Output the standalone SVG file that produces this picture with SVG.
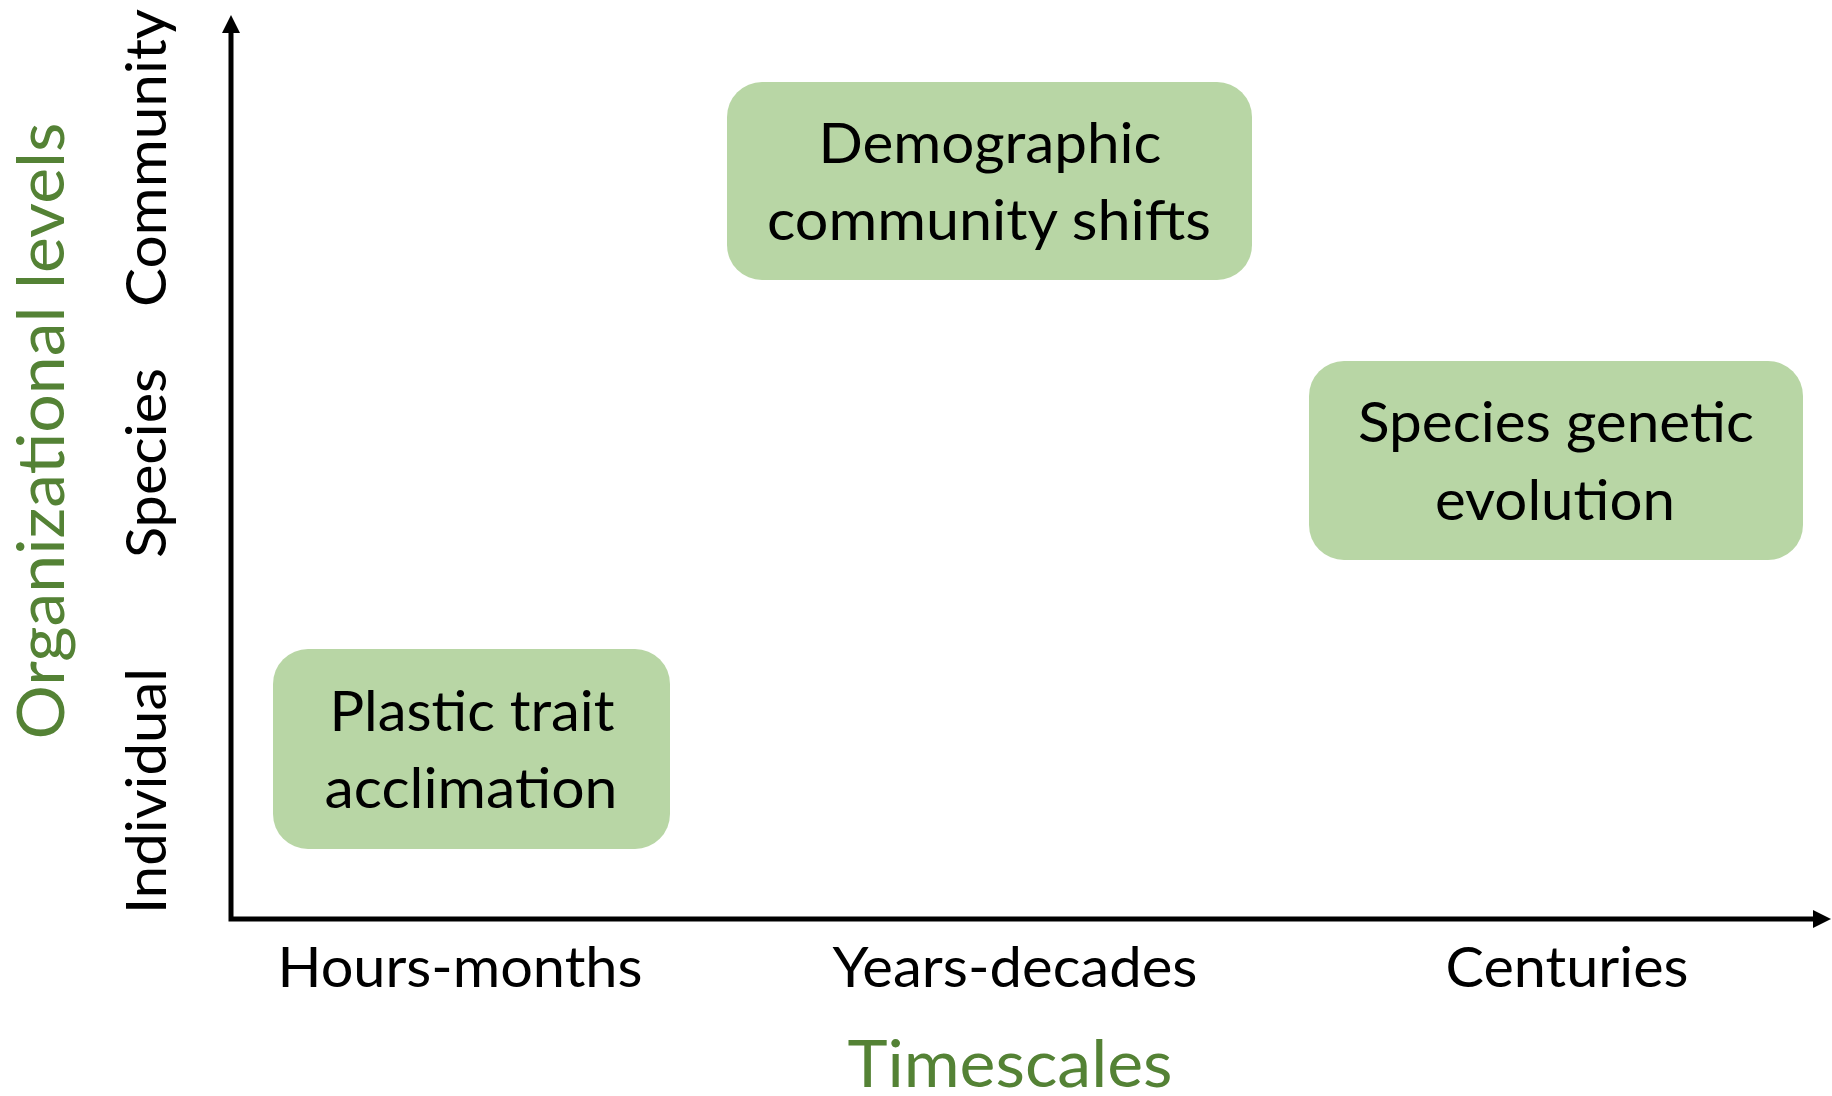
<svg xmlns="http://www.w3.org/2000/svg" width="1832" height="1096" viewBox="0 0 1832 1096">
  <defs>
    <marker id="arrowhead" markerUnits="userSpaceOnUse" markerWidth="18" markerHeight="18" refX="0" refY="9" orient="auto-start-reverse" viewBox="0 0 18 18">
      <path d="M0,0 L18,9 L0,18 z" fill="#000000"/>
    </marker>
    <style>
      .box { fill: #B8D6A5; }
      .label { font-family: Lato, "Open Sans", "Liberation Sans", sans-serif; fill: #000000; text-anchor: middle; }
      .txt { font-size: 56px; }
      .title { font-size: 65px; fill: #548235; }
      .axis { fill: none; stroke: #000000; stroke-width: 5; stroke-linejoin: miter; }
    </style>
  </defs>
  <rect width="1832" height="1096" fill="#FFFFFF"/>

  <!-- axes -->
  <g id="connectors">
    <path class="axis" d="M231,33 V919 H1813" marker-start="url(#arrowhead)" marker-end="url(#arrowhead)"/>
  </g>

  <!-- vertical axis labels -->
  <g id="y-axis-labels">
    <text class="label title" transform="translate(64,431) rotate(-90)" textLength="617" lengthAdjust="spacingAndGlyphs">Organizational levels</text>
    <text class="label txt" transform="translate(166,158) rotate(-90)" textLength="298" lengthAdjust="spacingAndGlyphs">Community</text>
    <text class="label txt" transform="translate(166,463) rotate(-90)" textLength="190" lengthAdjust="spacingAndGlyphs">Species</text>
    <text class="label txt" transform="translate(166,791) rotate(-90)" textLength="246" lengthAdjust="spacingAndGlyphs">Individual</text>
  </g>

  <!-- horizontal axis labels -->
  <g id="x-axis-labels">
    <text class="label txt" x="460" y="987" textLength="365" lengthAdjust="spacingAndGlyphs">Hours-months</text>
    <text class="label txt" x="1015" y="987" textLength="365" lengthAdjust="spacingAndGlyphs">Years-decades</text>
    <text class="label txt" x="1567" y="987" textLength="243" lengthAdjust="spacingAndGlyphs">Centuries</text>
    <text class="label title" x="1010" y="1087" textLength="325" lengthAdjust="spacingAndGlyphs">Timescales</text>
  </g>

  <g id="node-demographic">
    <rect class="box" x="727" y="82" width="525" height="198" rx="35" ry="35"/>
    <text class="label txt" x="990" y="163" textLength="343" lengthAdjust="spacingAndGlyphs">Demographic</text>
    <text class="label txt" x="989" y="240" textLength="444" lengthAdjust="spacingAndGlyphs">community shifts</text>
  </g>

  <g id="node-genetic">
    <rect class="box" x="1309" y="361" width="494" height="199" rx="35" ry="35"/>
    <text class="label txt" x="1556" y="442" textLength="396" lengthAdjust="spacingAndGlyphs">Species genetic</text>
    <text class="label txt" x="1555" y="520" textLength="240" lengthAdjust="spacingAndGlyphs">evolution</text>
  </g>

  <g id="node-plastic">
    <rect class="box" x="273" y="649" width="397" height="200" rx="35" ry="35"/>
    <text class="label txt" x="472" y="731" textLength="285" lengthAdjust="spacingAndGlyphs">Plastic trait</text>
    <text class="label txt" x="471" y="808" textLength="293" lengthAdjust="spacingAndGlyphs">acclimation</text>
  </g>
</svg>
